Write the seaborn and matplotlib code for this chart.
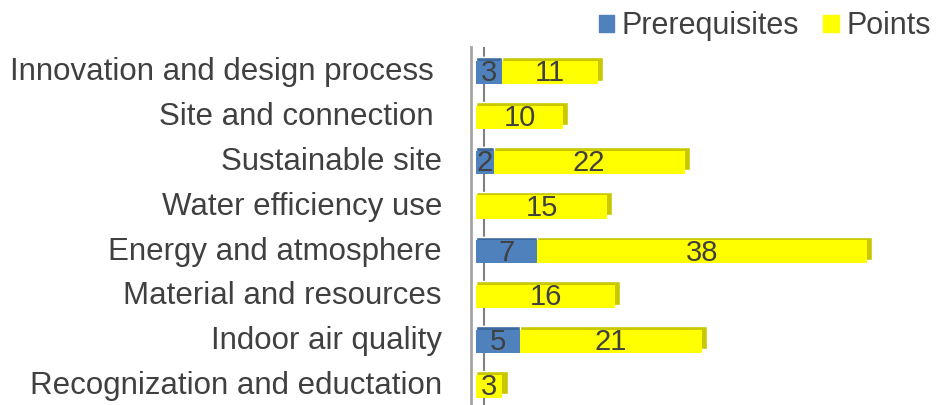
import numpy as np
import pandas as pd
import matplotlib
matplotlib.use("Agg")
import matplotlib.pyplot as plt
import seaborn as sns
from matplotlib.patches import Patch

# data, top to bottom
categories = [
    "Innovation and design process ",
    "Site and connection ",
    "Sustainable site",
    "Water efficiency use",
    "Energy and atmosphere",
    "Material and resources",
    "Indoor air quality",
    "Recognization and eductation",
]
prerequisites = [3, 0, 2, 0, 7, 0, 5, 0]
points = [11, 10, 22, 15, 38, 16, 21, 3]

sns.set_style("white")
plt.rcParams["font.family"] = ["Liberation Sans", "DejaVu Sans"]

blue = "#4f81bd"
yellow = "#ffff00"
text_col = "#404040"

df = pd.DataFrame({"category": categories,
                   "Prerequisites": prerequisites,
                   "Points": points})
df["total"] = df["Prerequisites"] + df["Points"]

fig = plt.figure(figsize=(9.47, 4.05), dpi=100)
ax = fig.add_axes([0.503, 0.0, 0.497, 0.885])

bh = 0.52
# fake 3D depth: darker copies behind the bars
ax.barh(df["category"], df["total"] + 0.6, height=bh, left=0,
        color="#c8c800", zorder=1)
ax.barh(df["category"], df["Prerequisites"], height=bh, left=0,
        color="#3c6a9e", zorder=1)

# front faces via seaborn
sns.barplot(data=df, y="category", x="total", color=yellow, orient="h",
            width=bh, ax=ax, zorder=2, linewidth=0, saturation=1)
sns.barplot(data=df, y="category", x="Prerequisites", color=blue, orient="h",
            width=bh, ax=ax, zorder=3, linewidth=0, saturation=1)

# shift front faces down a touch for depth look
for p in ax.patches[16:]:
    p.set_y(p.get_y() + 0.08)

# value labels
for i, (pr, pt) in enumerate(zip(prerequisites, points)):
    if pr > 0:
        ax.text(pr / 2, i + 0.1, str(pr), ha="center", va="center",
                fontsize=21, color=text_col, zorder=5)
    if pt > 0:
        ax.text(pr + pt / 2, i + 0.1, str(pt), ha="center", va="center",
                fontsize=21, color=text_col, zorder=5)

ax.set_xlim(0, 54.2)
ax.set_ylim(7.5, -0.5)
ax.set_xlabel("")
ax.set_ylabel("")
ax.set_xticks([])
ax.tick_params(axis="y", length=0, pad=21, labelsize=22.5, labelcolor=text_col)
for s in ["top", "right", "bottom"]:
    ax.spines[s].set_visible(False)
ax.spines["left"].set_color("#a6a6a6")
ax.spines["left"].set_linewidth(2)
ax.spines["left"].set_position(("data", -0.6))
ax.axvline(0.9, color="#808080", lw=1.5, zorder=0)

# legend
handles = [Patch(color=blue, label="Prerequisites"),
           Patch(color=yellow, label="Points")]
fig.legend(handles=handles, loc="upper right", bbox_to_anchor=(1.012, 1.04),
           ncol=2, frameon=False, fontsize=22, handlelength=0.5,
           handleheight=0.5, handletextpad=0.25, columnspacing=0.8,
           labelcolor=text_col)

fig.savefig("out.png", dpi=100)
